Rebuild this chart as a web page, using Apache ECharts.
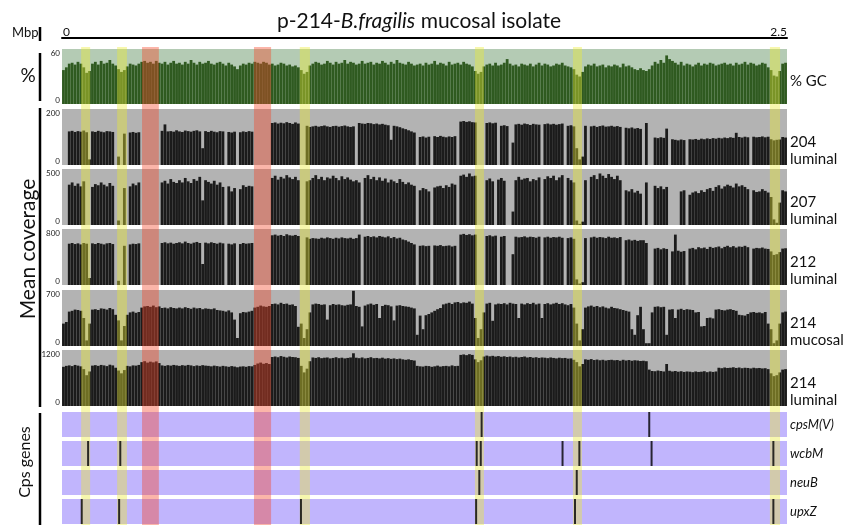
<!DOCTYPE html>
<html><head><meta charset="utf-8">
<script src="https://cdn.jsdelivr.net/npm/echarts@6/dist/echarts.min.js"></script>
<style>html,body{margin:0;padding:0;background:#fff}#c{width:844px;height:525px}</style>
</head><body><div id="c"></div>
<script>
// genome bins of 0.01 Mbp (0 .. 2.5 Mbp)
const gcPct = [
37,40,44,45,43,46,44,40,34,36, 44,46,43,47,44,45,48,44,42,38, 35,37,41,44,43,42,44,46,47,45,
46,44,47,45,44,46,43,45,47,44, 45,43,46,44,48,45,43,46,44,45, 47,44,43,45,46,44,42,45,43,41,
38,42,44,43,45,44,46,45,44,46, 45,43,44,42,43,45,44,42,43,41, 42,40,37,33,35,42,44,46,45,43,
44,47,45,43,46,44,45,48,44,46, 45,43,44,47,44,45,46,43,45,44, 47,45,43,46,44,48,45,44,43,46,
44,42,43,44,42,45,43,44,47,43, 45,44,42,46,43,44,45,43,46,44, 43,41,36,33,35,41,43,44,42,45,
42,43,45,49,44,42,43,41,44,43, 42,44,41,43,45,42,44,43,41,42, 44,43,45,42,41,40,38,32,30,35,
41,43,42,44,41,42,43,40,42,41, 43,42,40,44,41,42,40,38,37,39, 37,36,38,42,46,44,48,45,53,49,
47,45,43,46,42,44,43,41,43,45, 42,44,43,45,44,42,43,44,45,43, 44,42,45,43,44,46,43,45,44,42,
43,45,44,40,37,31,30,36,44,45];
const cov204L = [
0,0,120,122,118,121,119,123,117,20, 120,118,122,119,117,121,120,118,0,30, 0,112,0,116,118,115,117,0,0,0,
0,0,0,0,122,145,120,121,119,124, 120,118,123,121,119,122,124,120,60,121, 118,122,119,117,121,120,0,118,116,119,
0,117,120,118,121,119,0,0,0,0, 0,0,150,152,148,151,149,153,150,147, 152,148,0,0,140,136,138,140,137,139,
141,138,136,139,140,137,139,141,138,136, 138,0,150,148,147,150,149,146,148,145, 147,144,142,90,140,138,135,131,128,124,
120,116,0,100,102,98,101,0,103,100, 104,101,99,102,100,103,0,155,157,154, 156,153,152,0,0,0,150,152,149,151,
0,140,142,139,0,80,145,147,144,148, 146,143,147,145,144,0,146,148,145,147, 144,146,148,0,140,142,138,60,20,30,
140,0,138,140,136,139,141,137,138,140, 137,139,136,0,133,131,134,130,132,129, 0,150,0,0,98,96,99,97,130,0,
92,90,88,91,89,0,92,91,93,90, 94,92,95,93,96,94,97,95,98,96, 99,97,115,100,98,101,99,0,101,99,
100,102,99,101,92,88,90,91,100,98];
const cov207L = [
0,0,360,380,350,370,345,390,0,0, 340,365,355,380,360,345,375,350,0,40, 0,330,0,345,370,355,380,0,0,0,
0,0,0,0,380,395,370,410,385,375, 400,380,420,390,375,410,395,430,220,400, 385,370,395,360,380,340,0,345,300,330,
0,320,355,340,350,345,0,0,0,0, 0,0,420,440,405,430,415,445,425,410, 430,400,0,0,390,400,420,445,410,430,
400,425,415,440,420,400,435,410,425,405, 390,400,380,0,420,445,410,430,400,425, 395,415,380,405,390,375,410,385,365,380,
360,350,0,310,330,320,300,0,335,345, 350,330,355,340,370,360,0,440,450,430, 460,435,440,0,0,0,400,415,390,0,
405,420,395,0,0,120,400,430,405,415, 420,390,410,400,425,0,410,435,420,440, 400,425,445,0,420,400,380,40,10,30,
400,0,430,445,410,460,440,420,455,430, 410,440,400,0,310,300,320,290,305,280, 0,380,0,0,350,330,345,320,340,0,
0,0,0,300,310,0,270,290,300,285, 310,295,320,330,305,340,355,325,345,360, 350,335,370,345,355,340,320,0,310,295,
300,320,305,290,250,50,20,200,310,300];
const cov212L = [
0,0,590,600,585,595,580,600,590,100, 595,585,600,590,580,595,600,585,0,60, 0,560,0,580,590,585,595,0,0,0,
0,0,0,0,600,610,595,605,590,600, 610,595,620,600,590,605,615,600,300,605, 595,610,600,590,605,595,0,590,580,595,
0,585,600,590,595,600,0,0,0,0, 0,0,710,720,705,715,700,725,710,705, 715,700,0,0,680,660,670,665,660,675,
665,680,670,660,675,665,680,670,665,675, 660,670,720,0,690,700,685,695,680,700, 690,680,695,670,685,665,675,650,640,620,
600,580,0,560,565,555,560,0,565,560, 570,555,560,565,550,560,0,720,730,715, 725,710,720,0,0,0,700,710,695,705,
0,690,700,0,0,440,690,680,685,695, 680,690,685,675,690,0,680,690,675,685, 680,690,675,0,670,680,660,80,20,40,
670,0,680,690,675,685,680,670,690,675, 680,670,685,0,640,650,635,645,630,640, 640,600,0,0,520,530,510,525,515,0,
480,720,490,475,485,0,520,530,510,540, 525,535,515,545,530,540,550,525,545,560, 540,555,535,550,545,560,540,0,520,530,
525,535,520,515,480,430,440,470,520,525];
const cov214M = [
280,300,430,440,455,450,440,350,70,280, 455,460,450,470,465,455,475,460,390,320, 70,250,390,420,430,415,425,480,495,500,
490,505,485,495,475,480,470,485,475,470, 480,470,485,475,465,480,470,475,460,470, 465,460,470,450,445,440,430,445,420,330,
100,410,425,420,430,440,480,490,505,495, 490,500,525,530,520,540,525,530,515,520, 500,240,280,100,210,420,520,530,525,515,
520,330,510,525,515,520,510,505,515,520, 690,500,490,245,505,520,530,515,525,350, 500,515,510,495,320,505,510,500,495,490,
480,470,140,380,210,385,400,420,440,460, 475,520,530,540,525,545,550,535,545,540, 555,530,350,100,210,420,530,540,315,520,
530,525,535,520,540,530,525,350,530,520, 535,525,540,520,530,350,525,535,520,530, 540,525,535,520,510,525,480,280,70,210,
480,495,505,490,500,485,495,480,470,490, 475,470,460,450,440,430,210,140,385,490, 210,35,35,420,490,495,485,490,140,455,
460,350,455,465,450,460,455,450,420,425, 245,250,350,355,345,455,460,450,445,455, 460,450,440,390,385,380,400,420,425,415,
420,410,425,280,210,35,70,280,420,430];
const cov214L = [
840,860,870,855,880,865,850,790,660,740, 865,875,860,880,870,855,885,870,820,760, 700,770,860,850,870,865,880,940,960,930,
950,935,955,920,870,860,875,865,880,870, 860,875,865,880,870,855,870,860,875,865, 860,850,865,855,845,860,850,840,855,845,
830,845,850,840,855,850,880,910,930,905, 920,900,1050,1060,1045,1070,1055,1040,1060,1050, 1045,1030,860,720,800,960,1040,1030,1045,1025,
1035,1040,1020,1030,1045,1025,1035,1020,1030,1040, 1130,1035,1025,1040,1020,1030,1045,1025,1030,1020, 1035,1015,1025,1010,1020,1005,1015,1000,990,1000,
985,975,860,850,845,860,855,840,850,865, 845,855,860,850,870,855,860,1095,1105,1090, 1110,1095,1000,940,980,1060,1080,1065,1075,1060,
1070,1055,1065,1050,1060,1045,1055,1040,1050,1060, 1040,1050,1035,1045,1030,1040,1035,1025,1040,1030, 1020,1035,1025,1030,1015,1020,990,940,850,900,
1000,990,1005,985,995,980,990,975,985,990, 980,985,970,990,975,985,970,980,975,965, 970,960,780,750,745,760,750,740,900,755,
740,750,735,745,730,740,735,725,740,730, 735,745,725,740,730,740,820,810,825,815, 820,830,815,825,810,820,815,805,820,810,
815,805,810,790,700,640,660,720,780,790];
const binLabels = gcPct.map((_, i) => (i * 0.01).toFixed(2));
const axisMax = [60, 200, 500, 800, 700, 1200];
const panelNames = [['% GC'], ['204', 'luminal'], ['207', 'luminal'], ['212', 'luminal'], ['214', 'mucosal'], ['214', 'luminal']];
const mbpTicks = ['0', '2.5'];
const yellowBands = [[0.066,0.097],[0.19,0.224],[0.82,0.855],[1.424,1.455],[1.762,1.793],[2.441,2.476]];
const redBands = [[0.276,0.334],[0.662,0.721]];
const geneNames = ['cpsM(V)', 'wcbM', 'neuB', 'upxZ'];
const geneHits = [
  [1.447, 2.025],
  [0.090, 0.201, 1.430, 1.444, 1.726, 1.784, 2.033, 2.453],
  [1.439, 1.775],
  [0.068, 0.197, 0.824, 1.428, 1.769, 2.453]
];

const L = 62, W = 725;
const F = 'Lato, "Open Sans", sans-serif';
const panelData = [gcPct, cov204L, cov207L, cov212L, cov214M, cov214L];
const panelTops = [49, 109, 169, 229, 290, 350];
const panelH = [55, 56, 56, 56, 56, 56];
const geneTops = [412, 441, 470, 499];
const geneH = 25;

const grid = [], xAxis = [], yAxis = [], series = [], graphic = [];
// overlay grid (index 0): top Mbp axis + highlight bands
grid.push({left: L, width: W, top: 47, bottom: 0, show: false});
xAxis.push({gridIndex: 0, type: 'value', min: 0, max: 2.5, interval: 2.5, position: 'top', offset: 9,
  axisLine: {show: true, onZero: false, lineStyle: {color: '#000', width: 2}}, axisTick: {show: false}, splitLine: {show: false},
  axisLabel: {show: false}});
yAxis.push({gridIndex: 0, type: 'value', min: 0, max: 1, show: false});
const bandRows = yellowBands.map(b => [b[0], b[1], 0]).concat(redBands.map(b => [b[0], b[1], 1]));
const bandColors = ['rgba(236,236,50,0.40)', 'rgba(245,70,40,0.40)'];
series.push({type: 'custom', xAxisIndex: 0, yAxisIndex: 0, data: bandRows, z: 20, silent: true, animation: false,
  renderItem: (params, api) => {
    const p0 = api.coord([api.value(0), 1]);
    const p1 = api.coord([api.value(1), 0]);
    return {type: 'rect', shape: {x: p0[0], y: p0[1], width: p1[0] - p0[0], height: p1[1] - p0[1]},
      style: {fill: bandColors[api.value(2)]}};
  }});

panelData.forEach((d, k) => {
  const gi = grid.length;
  const isGC = k === 0;
  grid.push({left: L, width: W, top: panelTops[k], height: panelH[k], show: true,
    backgroundColor: isGC ? '#b4cbb4' : '#b3b3b3', borderWidth: 0});
  xAxis.push({gridIndex: gi, type: 'category', data: binLabels, show: false, boundaryGap: true});
  yAxis.push({gridIndex: gi, type: 'value', min: 0, max: axisMax[k], interval: axisMax[k],
    axisLine: {show: false}, axisTick: {show: false}, splitLine: {show: false},
    axisLabel: {fontSize: 8, fontFamily: F, color: '#222', margin: 2, formatter: v => String(v),
      verticalAlignMinLabel: 'bottom', verticalAlignMaxLabel: 'top'}});
  series.push({type: 'bar', xAxisIndex: gi, yAxisIndex: gi, data: d, barCategoryGap: '4%', z: 2,
    silent: true, animation: false, itemStyle: {color: isGC ? '#2f5a20' : '#1b1b1b'}});
  const names = panelNames[k];
  const bottom = panelTops[k] + panelH[k];
  if (names.length === 1) {
    graphic.push({type: 'text', x: 790, y: 81, style: {text: names[0], font: '15px ' + F, fill: '#111', verticalAlign: 'middle', align: 'left'}});
  } else {
    graphic.push({type: 'text', x: 790, y: bottom - 23, style: {text: names[0], font: '15px ' + F, fill: '#111', verticalAlign: 'middle', align: 'left'}});
    graphic.push({type: 'text', x: 790, y: bottom - 6, style: {text: names[1], font: '15px ' + F, fill: '#111', verticalAlign: 'middle', align: 'left'}});
  }
});

geneHits.forEach((hits, k) => {
  const gi = grid.length;
  grid.push({left: L, width: W, top: geneTops[k], height: geneH, show: true, backgroundColor: '#c1b5fd', borderWidth: 0});
  xAxis.push({gridIndex: gi, type: 'value', min: 0, max: 2.5, show: false});
  yAxis.push({gridIndex: gi, type: 'value', min: 0, max: 1, show: false});
  series.push({type: 'scatter', xAxisIndex: gi, yAxisIndex: gi, data: hits.map(x => [x, 0.5]),
    symbol: 'rect', symbolSize: [2, geneH], z: 30, silent: true, animation: false, itemStyle: {color: '#000'}});
  graphic.push({type: 'text', x: 790, y: geneTops[k] + 13, style: {text: geneNames[k], font: 'italic 13px ' + F, fill: '#111', verticalAlign: 'middle', align: 'left'}});
});

// left side labels, brackets and Mbp tick labels
graphic.push(
  {type: 'text', x: 63, y: 32, style: {text: mbpTicks[0], font: '12px ' + F, fill: '#111', verticalAlign: 'middle', align: 'left'}},
  {type: 'text', x: 787, y: 32, style: {text: mbpTicks[1], font: '12px ' + F, fill: '#111', verticalAlign: 'middle', align: 'right'}},
  {type: 'text', x: 12, y: 33, style: {text: 'Mbp', font: '13px ' + F, fill: '#111', verticalAlign: 'middle', align: 'left'}},
  {type: 'line', shape: {x1: 40, y1: 27, x2: 40, y2: 41}, style: {stroke: '#000', lineWidth: 2.5}},
  {type: 'text', x: 28, y: 76, style: {text: '%', font: '19px ' + F, fill: '#111', verticalAlign: 'middle', align: 'center'}},
  {type: 'line', shape: {x1: 40, y1: 53, x2: 40, y2: 101}, style: {stroke: '#000', lineWidth: 2.5}},
  {type: 'text', x: 28, y: 249, rotation: Math.PI / 2, style: {text: 'Mean coverage', font: '21px ' + F, fill: '#111', verticalAlign: 'middle', align: 'center'}},
  {type: 'line', shape: {x1: 40, y1: 108, x2: 40, y2: 407}, style: {stroke: '#000', lineWidth: 2.5}},
  {type: 'text', x: 25, y: 462, rotation: Math.PI / 2, style: {text: 'Cps genes', font: '16px ' + F, fill: '#111', verticalAlign: 'middle', align: 'center'}},
  {type: 'line', shape: {x1: 40, y1: 413, x2: 40, y2: 525}, style: {stroke: '#000', lineWidth: 2.5}}
);

const chart = echarts.init(document.getElementById('c'), null, {renderer: 'canvas'});
chart.setOption({
  animation: false,
  backgroundColor: '#fff',
  title: {text: '{a|p-214-}{b|B.fragilis}{a| mucosal isolate}', left: 414, top: 6, textAlign: 'center',
    textStyle: {rich: {a: {fontSize: 21, fontFamily: F, fontWeight: 'normal', color: '#111'},
      b: {fontSize: 21, fontFamily: F, fontStyle: 'italic', fontWeight: 'normal', color: '#111'}}}},
  grid, xAxis, yAxis, series, graphic
});
</script></body></html>
